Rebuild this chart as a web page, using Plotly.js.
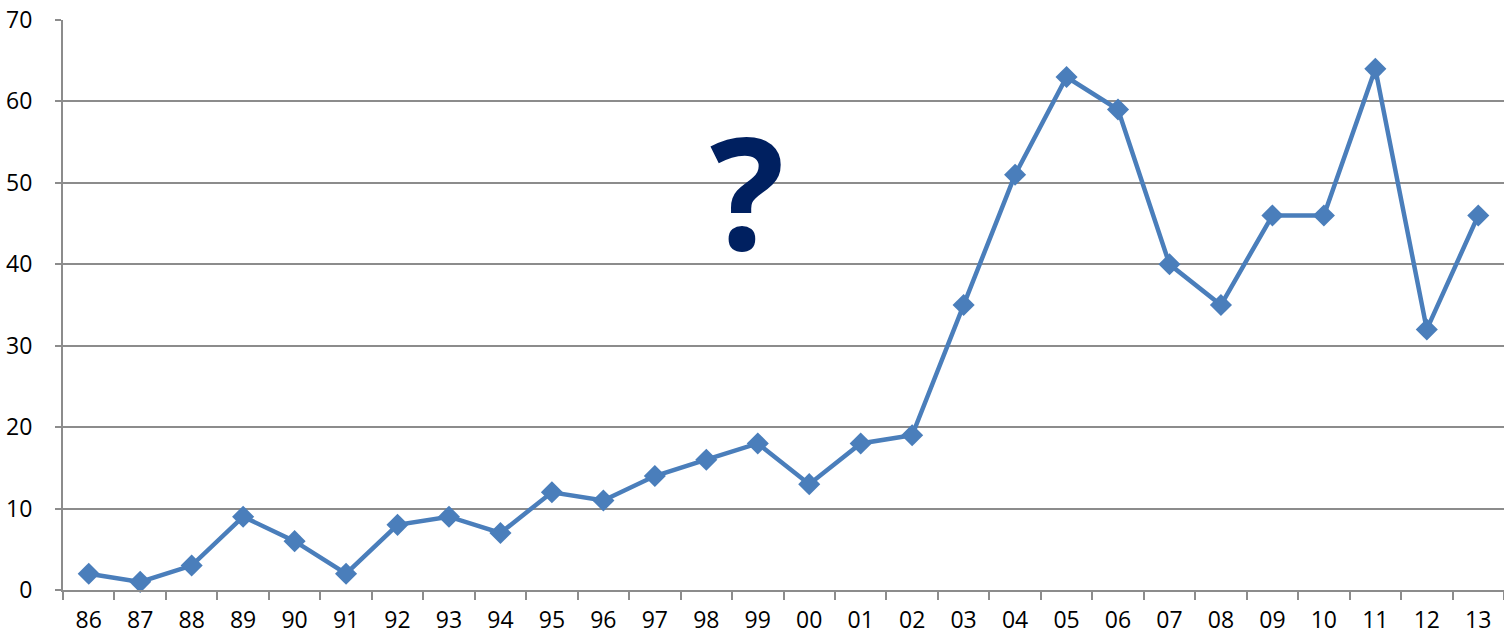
<!DOCTYPE html>
<html>
<head>
<meta charset="utf-8">
<script src="https://cdn.plot.ly/plotly-3.0.1.min.js"></script>
<style>
  html, body { margin: 0; padding: 0; background: #ffffff; }
  #chart { width: 1504px; height: 636px; }
</style>
</head>
<body>
<div id="chart"></div>
<script>
// Years (two-digit labels) and yearly counts
const years = ["86","87","88","89","90","91","92","93","94","95","96","97","98","99",
               "00","01","02","03","04","05","06","07","08","09","10","11","12","13"];
const counts = [2, 1, 3, 9, 6, 2, 8, 9, 7, 12, 11, 14, 16, 18,
                13, 18, 19, 35, 51, 63, 59, 40, 35, 46, 46, 64, 32, 46];
const yTicks = [0, 10, 20, 30, 40, 50, 60, 70];

const lineBlue = '#4a7ebb';
const gridGray = '#8c8c8c';
const labelFont = { family: 'Open Sans, sans-serif', size: 23, color: '#000000' };

const trace = {
  type: 'scatter',
  mode: 'lines+markers',
  x: years,
  y: counts,
  line: { color: lineBlue, width: 4.5 },
  marker: { symbol: 'diamond', size: 17, color: lineBlue },
  cliponaxis: false,
  hoverinfo: 'x+y'
};

const layout = {
  width: 1504,
  height: 636,
  margin: { l: 63, r: 0, t: 20, b: 46 },
  paper_bgcolor: '#ffffff',
  plot_bgcolor: '#ffffff',
  showlegend: false,
  xaxis: {
    type: 'category',
    categoryorder: 'array',
    categoryarray: years,
    range: [-0.5, years.length - 0.5],
    showgrid: false,
    showline: true,
    linecolor: gridGray,
    linewidth: 2,
    ticks: 'outside',
    tickson: 'boundaries',
    ticklen: 8,
    tickwidth: 2,
    tickcolor: gridGray,
    tickfont: labelFont,
    ticklabelstandoff: 8,
    zeroline: false,
    fixedrange: true
  },
  yaxis: {
    range: [0, 70],
    tickvals: yTicks,
    showgrid: true,
    gridcolor: gridGray,
    gridwidth: 2,
    showline: true,
    linecolor: gridGray,
    linewidth: 2,
    ticks: 'outside',
    ticklen: 6,
    tickwidth: 2,
    tickcolor: gridGray,
    tickfont: labelFont,
    ticklabelstandoff: 18,
    zeroline: false,
    fixedrange: true
  },
  annotations: [{
    text: '<b>?</b>',
    xref: 'paper', yref: 'paper',
    x: 0.475, y: 0.703,
    xanchor: 'center', yanchor: 'middle',
    showarrow: false,
    font: { family: 'Open Sans, sans-serif', size: 156, color: '#002060' }
  }]
};

Plotly.newPlot('chart', [trace], layout, { displayModeBar: false, staticPlot: true });
</script>
</body>
</html>
